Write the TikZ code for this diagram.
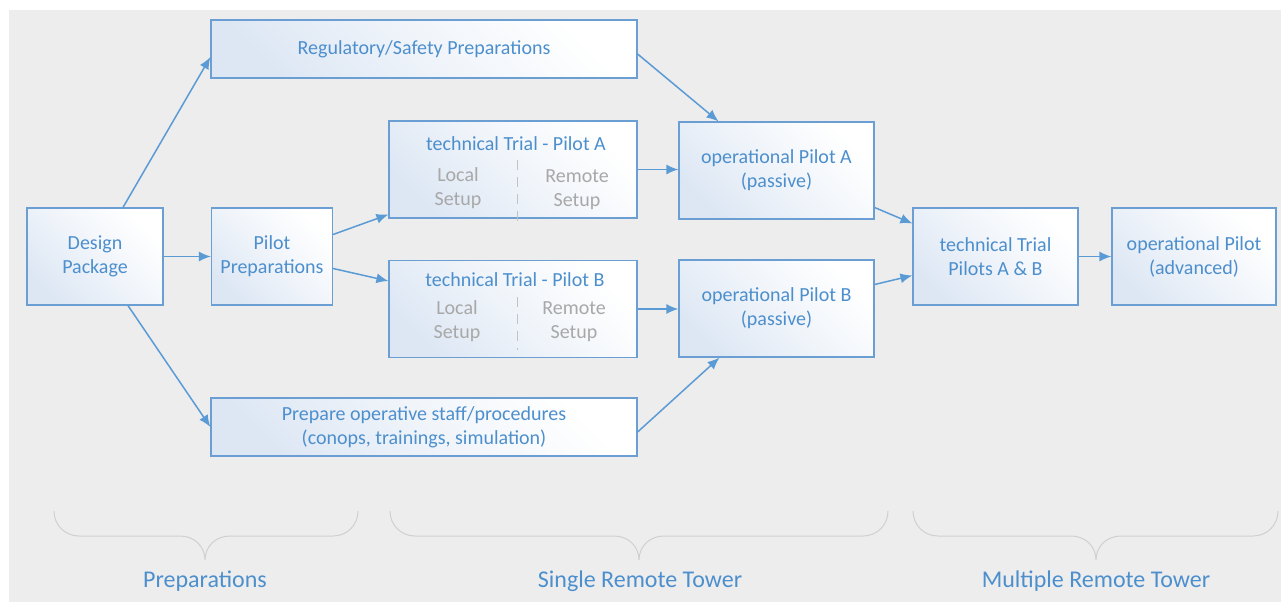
\documentclass[tikz,border=0pt]{standalone}
\usepackage{fontspec}
\setmainfont{Carlito}
\usepackage{xcolor}
\usepackage{tikz}
\usetikzlibrary{arrows.meta}

\definecolor{bgGray}{HTML}{EDEDED}
\definecolor{boxLine}{HTML}{6B9FD3}
\definecolor{boxTop}{HTML}{DDE7F4}
\definecolor{txtBlue}{HTML}{4D8FCD}
\definecolor{arrBlue}{HTML}{5B9BD5}
\definecolor{setupGray}{HTML}{A8A8A8}
\definecolor{braceGray}{HTML}{D0D0D0}

% curly brace under one phase: left end, tip, right end
\newcommand{\phasebrace}[3]{%
  \draw[brace] (#1,511) .. controls (#1,525) and ({#1+11},536) .. ({#1+25},536)
    -- ({#2-25},536) .. controls ({#2-11},536) and (#2,546) .. (#2,560)
    .. controls (#2,546) and ({#2+11},536) .. ({#2+25},536)
    -- ({#3-25},536) .. controls ({#3-11},536) and (#3,525) .. (#3,511);}

\begin{document}
\begin{tikzpicture}[x=1pt,y=-1pt,
    box/.style={draw=boxLine,line width=1.2pt,top color=boxTop,bottom color=white,
      middle color=boxTop!45!white,shading angle=135,
      text=txtBlue,font=\fontsize{20}{24}\selectfont,align=center,inner sep=0pt},
    setup/.style={text=setupGray,font=\fontsize{20}{24}\selectfont,align=center},
    divider/.style={setupGray!70,line width=1pt,dash pattern=on 10pt off 7pt},
    flow/.style={arrBlue,line width=1.5pt,-{Latex[length=12pt,width=10pt]}},
    brace/.style={braceGray,line width=1pt},
    phase/.style={text=txtBlue,font=\fontsize{24}{28}\selectfont}]
            \useasboundingbox (0,0) rectangle (1281,602);
            \fill [bgGray] (9,10) rectangle (1281,602);

            \node [box,minimum width=136pt,minimum height=97pt] (design) at (95,256.5) {Design\\Package};
            \node [box,minimum width=426pt,minimum height=58pt] (regul) at (424,49) {Regulatory/Safety Preparations};
            \node [box,minimum width=121pt,minimum height=97pt] (pilotprep) at (272,256.5) {Pilot\\Preparations};
            \node [box,minimum width=426pt,minimum height=58pt] (staff) at (424,427) {Prepare operative staff/procedures\\(conops, trainings, simulation)};

            \node [box,minimum width=248pt,minimum height=97pt] (trialA) at (513,169.5) {};
            \node [text=txtBlue,font=\fontsize{20}{24}\selectfont] (titleA) at (516,144) {technical Trial - Pilot A};
            \node [setup] (localA) at (458,188) {Local\\Setup};
            \node [setup] (remoteA) at (577,190) {Remote\\Setup};
            \draw [divider] (517,160) -- (517,223);

            \node [box,minimum width=248pt,minimum height=97pt] (trialB) at (513,309) {};
            \node [text=txtBlue,font=\fontsize{20}{24}\selectfont] (titleB) at (515,280) {technical Trial - Pilot B};
            \node [setup] (localB) at (457,321) {Local\\Setup};
            \node [setup] (remoteB) at (574,322) {Remote\\Setup};
            \draw [divider] (517,297) -- (517,350);

            \node [box,minimum width=195pt,minimum height=97pt] (opA) at (776.5,170.5) {operational Pilot A\\(passive)};
            \node [box,minimum width=195pt,minimum height=97pt] (opB) at (776.5,308.5) {operational Pilot B\\(passive)};
            \node [box,minimum width=165pt,minimum height=97pt] (trialAB) at (995.5,256.5) {technical Trial\\Pilots A \& B};
            \node [box,minimum width=164pt,minimum height=97pt] (opadv) at (1194,256.5) {operational Pilot\\(advanced)};

            \draw [flow] ([xshift=28pt]design.north) -- ([yshift=-8pt]regul.west);
            \draw [flow] (design) -- (pilotprep);
            \draw [flow] ([xshift=33pt]design.south) -- (staff.west);
            \draw [flow] ([yshift=22pt]pilotprep.east) -- ([yshift=-45pt]trialA.west);
            \draw [flow] ([yshift=-12pt]pilotprep.east) -- ([yshift=28pt]trialB.west);
            \draw [flow] ([yshift=-5pt]regul.east) -- ([xshift=-58pt]opA.north);
            \draw [flow] (trialA.east) -- (trialA.east -| opA.west);
            \draw [flow] (trialB.east) -- (trialB.east -| opB.west);
            \draw [flow] ([yshift=-5pt]staff.east) -- ([xshift=-57pt]opB.south);
            \draw [flow] ([yshift=-37pt]opA.east) -- ([yshift=33pt]trialAB.west);
            \draw [flow] ([yshift=24pt]opB.east) -- ([yshift=-19pt]trialAB.west);
            \draw [flow] (trialAB) -- (opadv);

            \phasebrace{54}{205}{358}
            \phasebrace{390}{639}{888}
            \phasebrace{913}{1096}{1278}
            \node [phase] (prep) at (205,581) {Preparations};
            \node [phase] (single) at (640,581) {Single Remote Tower};
            \node [phase] (multi) at (1096,581) {Multiple Remote Tower};
        \end{tikzpicture}
\end{document}
